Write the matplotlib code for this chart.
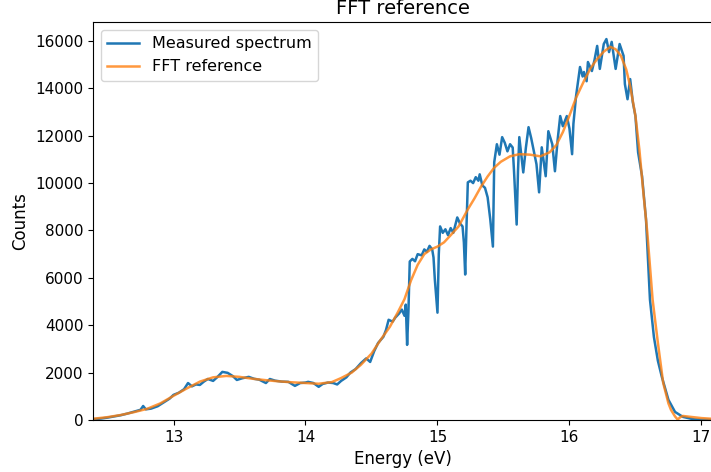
import numpy as np
import matplotlib
matplotlib.use("Agg")
import matplotlib.pyplot as plt

# measured spectrum (energy in eV, counts)
meas_energy = [
    12.39, 12.45, 12.50, 12.55, 12.60, 12.65, 12.70, 12.75, 12.77, 12.79,
    12.83, 12.88, 12.93, 12.97, 13.00, 13.04, 13.08, 13.11, 13.14, 13.17,
    13.20, 13.23, 13.26, 13.30, 13.33, 13.37, 13.41, 13.45, 13.48, 13.52,
    13.57, 13.61, 13.65, 13.70, 13.73, 13.77, 13.82, 13.87, 13.92, 13.96,
    14.00, 14.02, 14.06, 14.10, 14.13, 14.17, 14.21, 14.24, 14.27, 14.31,
    14.34, 14.38, 14.42, 14.46, 14.49, 14.52, 14.55, 14.59, 14.61, 14.63,
    14.66, 14.68, 14.71, 14.73, 14.75, 14.76, 14.77, 14.78, 14.79, 14.81,
    14.83, 14.85, 14.88, 14.90, 14.92, 14.94, 14.96, 14.97, 14.98, 15.00,
    15.01, 15.02, 15.04, 15.06, 15.08, 15.10, 15.12, 15.15, 15.17, 15.19,
    15.20, 15.21, 15.22, 15.23, 15.25, 15.27, 15.29, 15.31, 15.32, 15.34,
    15.36, 15.38, 15.40, 15.41, 15.42, 15.43, 15.45, 15.47, 15.49, 15.51,
    15.53, 15.55, 15.57, 15.58, 15.60, 15.61, 15.62, 15.65, 15.67, 15.69,
    15.71, 15.73, 15.75, 15.77, 15.79, 15.82, 15.84, 15.87, 15.89, 15.91,
    15.93, 15.95, 15.98, 16.00, 16.02, 16.03, 16.05, 16.08, 16.10, 16.11,
    16.13, 16.14, 16.17, 16.19, 16.21, 16.23, 16.26, 16.28, 16.30, 16.32,
    16.35, 16.38, 16.41, 16.42, 16.44, 16.46, 16.48, 16.50, 16.52, 16.55,
    16.58, 16.61, 16.64, 16.67, 16.70, 16.75, 16.80, 16.86, 16.94, 17.00,
    17.08,
]
meas_counts = [
    30, 60, 100, 150, 200, 270, 350, 430, 590, 450,
    480, 580, 760, 900, 1060, 1150, 1300, 1560, 1420, 1500,
    1480, 1620, 1730, 1650, 1800, 2030, 1990, 1850, 1690, 1760,
    1820, 1740, 1700, 1560, 1730, 1660, 1620, 1610, 1440, 1560,
    1580, 1610, 1560, 1400, 1520, 1580, 1560, 1500, 1650, 1800,
    2000, 2150, 2400, 2600, 2450, 2900, 3250, 3510, 3800, 4230,
    4150, 4320, 4500, 4660, 4400, 4870, 3170, 4600, 6690, 6800,
    6700, 7000, 6950, 7200, 7100, 7350, 7200, 6860, 5930, 4530,
    7000, 8170, 7900, 8050, 7800, 8100, 7900, 8550, 8300, 8170,
    7500, 6140, 8200, 10030, 10100, 10000, 10250, 10100, 10370, 9900,
    9800, 9400, 8470, 7900, 7320, 10880, 11640, 11200, 11940, 11700,
    11340, 11640, 11500, 10500, 8250, 10500, 11940, 10450, 11500, 12360,
    11900, 11340, 10800, 9610, 11510, 10290, 12190, 11640, 10500, 11800,
    12830, 12400, 12830, 12300, 11220, 12500, 13670, 14900, 14500, 14690,
    14300, 15110, 14730, 15200, 15790, 14820, 15870, 16080, 15530, 15960,
    14820, 15870, 15370, 14180, 13540, 14390, 13420, 12830, 11300, 10290,
    8470, 5080, 3500, 2500, 1820, 850, 340, 130, 30, 10,
    5,
]

# smooth FFT reference curve
ref_energy = [
    12.39, 12.50, 12.60, 12.70, 12.80, 12.90, 13.00, 13.10, 13.20, 13.30,
    13.40, 13.50, 13.60, 13.70, 13.80, 13.90, 14.00, 14.10, 14.20, 14.27,
    14.35, 14.42, 14.50, 14.57, 14.64, 14.70, 14.75, 14.80, 14.85, 14.90,
    14.95, 15.00, 15.05, 15.10, 15.16, 15.23, 15.28, 15.33, 15.38, 15.43,
    15.48, 15.55, 15.62, 15.70, 15.78, 15.85, 15.90, 15.95, 16.00, 16.05,
    16.11, 16.16, 16.21, 16.26, 16.31, 16.35, 16.39, 16.43, 16.46, 16.50,
    16.53, 16.56, 16.59, 16.63, 16.67, 16.71, 16.75, 16.77, 16.80, 16.82,
    16.84, 16.86, 16.92, 17.00, 17.08,
]
ref_counts = [
    50, 120, 210, 330, 470, 700, 1020, 1330, 1620, 1800,
    1860, 1820, 1740, 1680, 1630, 1590, 1560, 1530, 1600, 1770,
    2000, 2330, 2800, 3390, 3940, 4550, 5100, 5900, 6550, 7000,
    7200, 7320, 7500, 7800, 8170, 8890, 9350, 9850, 10280, 10650,
    10900, 11130, 11220, 11200, 11130, 11300, 11600, 12150, 12850, 13600,
    14310, 14850, 15240, 15550, 15750, 15650, 15370, 14800, 14100, 12830,
    11400, 9600, 7900, 5080, 3260, 1570, 700, 420, 150, 20,
    120, 170, 130, 80, 50,
]

fig = plt.figure(figsize=(7.11, 4.72), dpi=100)
ax = fig.add_axes([0.1308, 0.1102, 0.8706, 0.8432])

ax.plot(meas_energy, meas_counts, color="#1f77b4", lw=1.8, label="Measured spectrum")
ax.plot(ref_energy, ref_counts, color="#ff7f0e", lw=1.8, alpha=0.8, label="FFT reference")

ax.set_xlim(12.39, 17.08)
ax.set_ylim(0, 16800)
ax.set_xticks([13, 14, 15, 16, 17])
ax.set_yticks(np.arange(0, 16001, 2000))
ax.tick_params(labelsize=11)
ax.set_xlabel("Energy (eV)", fontsize=12)
ax.set_ylabel("Counts", fontsize=12)
ax.set_title("FFT reference", fontsize=14)
ax.legend(loc="upper left", fontsize=11.5)

fig.savefig("out.png", dpi=100)
